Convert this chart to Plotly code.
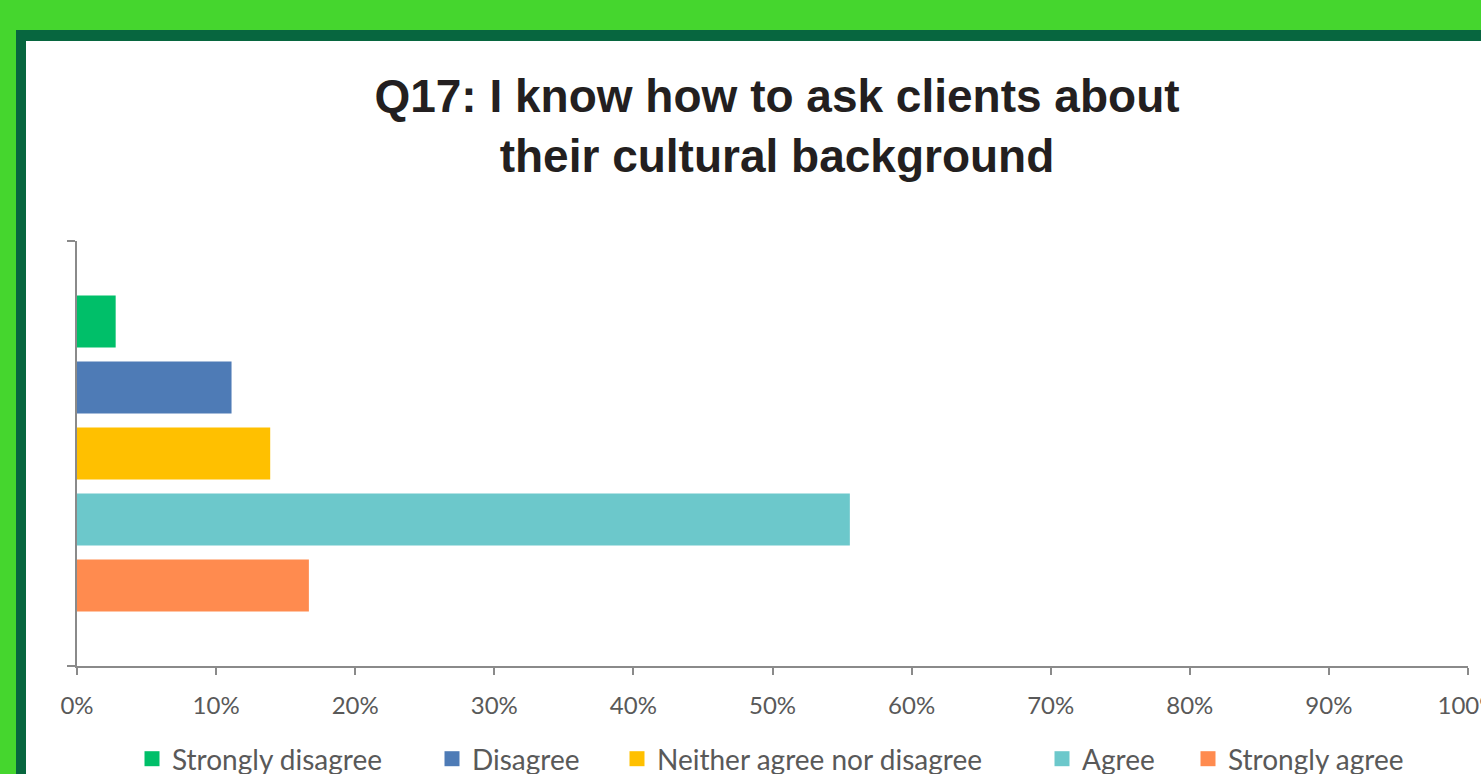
import plotly.graph_objects as go

# Survey responses (share of respondents)
categories = ["Strongly disagree", "Disagree", "Neither agree nor disagree", "Agree", "Strongly agree"]
shares = [0.0278, 0.1111, 0.1389, 0.5556, 0.1667]
colors = ["#00BF69", "#4E7BB6", "#FFC000", "#6CC8CB", "#FF8B4F"]
x_ticks = [i / 10 for i in range(11)]
x_tick_labels = [f"{i * 10}%" for i in range(11)]

W, H = 1481, 774
ML, MR, MT, MB = 77, 13, 241, 108
PW, PH = W - ML - MR, H - MT - MB


def px_x(x):
    return (x - ML) / PW


def px_y(y):
    return (H - MB - y) / PH


fig = go.Figure()
for name, val, col in zip(categories, shares, colors):
    fig.add_trace(go.Bar(
        x=[val], y=[""], name=name, orientation="h",
        marker=dict(color=col, line=dict(width=0)),
        hoverinfo="x+name", showlegend=False,
    ))

# legend entries, one small legend per response so each sits at its own spot
legend_text_left = [172, 472, 657, 1082, 1228]
legend_font = dict(family="Lato, Carlito, sans-serif", size=28, color="#595959")
legend_layout = {}
for i, (name, col, left) in enumerate(zip(categories, colors, legend_text_left)):
    key = "legend" if i == 0 else f"legend{i + 1}"
    fig.add_trace(go.Scatter(
        x=[None], y=[None], mode="markers", name=name, legend=key,
        marker=dict(symbol="square", size=15, color=col),
        hoverinfo="skip",
    ))
    legend_layout[key] = dict(
        orientation="h", x=px_x(left - 40), xanchor="left",
        y=px_y(734), yanchor="top", font=legend_font,
        bgcolor="rgba(0,0,0,0)", borderwidth=0,
        itemclick=False, itemdoubleclick=False,
    )

# frame: dark green border and white card on the bright green page
fig.add_shape(type="rect", xref="paper", yref="paper",
              x0=px_x(16), x1=px_x(W + 20), y0=px_y(30), y1=px_y(H + 40),
              fillcolor="#07663F", line=dict(width=0), layer="below")
fig.add_shape(type="rect", xref="paper", yref="paper",
              x0=px_x(26), x1=px_x(W + 20), y0=px_y(41), y1=px_y(H + 40),
              fillcolor="#FFFFFF", line=dict(width=0), layer="below")

fig.update_layout(
    width=W, height=H,
    margin=dict(l=ML, r=MR, t=MT, b=MB, pad=0, autoexpand=False),
    paper_bgcolor="#45D62E",
    plot_bgcolor="#FFFFFF",
    barmode="group",
    bargap=0.2235,
    bargroupgap=0.21,
    title=dict(
        text="<b>Q17: I know how to ask clients about<br>their cultural background</b>",
        font=dict(family="Liberation Sans, Arial, sans-serif", size=46, color="#231F20"),
        xref="container", x=777 / W, xanchor="center",
        yref="container", y=1 - 112 / H, yanchor="top",
    ),
    xaxis=dict(
        range=[0, 1], tickvals=x_ticks, ticktext=x_tick_labels,
        showgrid=False, zeroline=False,
        showline=True, linecolor="#8A8A8A", linewidth=2,
        ticks="outside", ticklen=7, tickwidth=2, tickcolor="#8A8A8A",
        tickfont=dict(family="Lato, Carlito, sans-serif", size=24, color="#595959"),
        ticklabelstandoff=10,
        ticklabeloverflow="allow",
    ),
    yaxis=dict(
        type="category", range=[0.5, -0.5],
        showgrid=False, zeroline=False, showticklabels=False,
        showline=True, linecolor="#8A8A8A", linewidth=2,
        ticks="outside", ticklen=8, tickwidth=2, tickcolor="#8A8A8A",
        tickson="boundaries",
    ),
    showlegend=True,
    **legend_layout,
)

fig.write_html("out.html")
